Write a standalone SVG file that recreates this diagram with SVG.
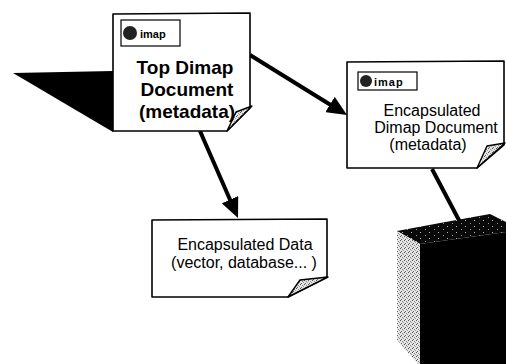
<svg xmlns="http://www.w3.org/2000/svg" width="506" height="364" viewBox="0 0 506 364">
  <defs>
    <!-- dithered grey used on the page curls and the cube side -->
    <pattern id="dither" width="4" height="4" patternUnits="userSpaceOnUse">
      <rect width="4" height="4" fill="#e4e4e4"/>
      <rect x="0" y="0" width="1" height="1" fill="#555"/>
      <rect x="2" y="1" width="1" height="1" fill="#888"/>
      <rect x="1" y="3" width="1" height="1" fill="#666"/>
      <rect x="3" y="2" width="1" height="1" fill="#999"/>
    </pattern>
    <pattern id="speckle" width="9" height="6" patternUnits="userSpaceOnUse">
      <rect width="9" height="6" fill="#0a0a0a"/>
      <rect x="2" y="1" width="1" height="1" fill="#999"/>
      <rect x="6" y="4" width="1" height="1" fill="#bbb"/>
    </pattern>
    <marker id="ah" markerUnits="userSpaceOnUse" markerWidth="22" markerHeight="18" refX="8" refY="9" orient="auto">
      <path d="M0,0 L20,9 L0,18 z" fill="#000"/>
    </marker>
  </defs>
  <style>
    .page { fill: #fff; stroke: #000; stroke-width: 1.6; stroke-linejoin: round; }
    .curl { fill: url(#dither); stroke: #000; stroke-width: 1.4; stroke-linejoin: round; }
    .icon { fill: #fff; stroke: #000; stroke-width: 1.2; }
    .icontxt { font-family: "Liberation Sans", Arial, sans-serif; font-size: 11px; font-weight: bold; fill: #000; }
    .big { font-family: "Liberation Sans", Arial, sans-serif; font-size: 19px; font-weight: bold; fill: #000; text-anchor: middle; }
    .lbl { font-family: "Liberation Sans", Arial, sans-serif; font-size: 16px; fill: #000; text-anchor: middle; }
    .conn { stroke: #000; stroke-width: 4; fill: none; }
  </style>

  <!-- black wedge behind the top document -->
  <polygon points="13,73 113,71 113,132" fill="#000"/>

  <g id="connectors">
    <line class="conn" x1="250" y1="55" x2="336.8" y2="108.7" marker-end="url(#ah)"/>
    <line class="conn" x1="200" y1="131" x2="233.2" y2="207" marker-end="url(#ah)"/>
    <line class="conn" x1="432" y1="169" x2="461" y2="224"/>
  </g>

  <g id="top-dimap">
    <path class="page" d="M113,14 L250,13 L250,108 L227,131 L113,131 Z"/>
    <path class="curl" d="M227,131 L236,112 L252,106 Z"/>
    <rect class="icon" x="121" y="20" width="59" height="26"/>
    <circle cx="130" cy="33" r="7" fill="#222"/>
    <text class="icontxt" x="140" y="38">imap</text>
    <text class="big" x="185" y="74">Top Dimap</text>
    <text class="big" x="187" y="96">Document</text>
    <text class="big" x="187" y="118">(metadata)</text>
  </g>

  <g id="encapsulated-dimap">
    <path class="page" d="M347,62 L504,61 L504,145 L477,168 L347,168 Z"/>
    <path class="curl" d="M477,168 L487,146 L505,143 Z"/>
    <rect class="icon" x="358" y="72" width="59" height="18"/>
    <circle cx="366" cy="81" r="6" fill="#222"/>
    <text class="icontxt" x="374" y="86" letter-spacing="1">imap</text>
    <text class="lbl" x="432" y="116">Encapsulated</text>
    <text class="lbl" x="436" y="133">Dimap Document</text>
    <text class="lbl" x="428" y="150">(metadata)</text>
  </g>

  <g id="encapsulated-data">
    <path class="page" d="M152,220 L327,219 L327,277 L288,297 L152,297 Z"/>
    <path class="curl" d="M288,297 L300,280 L328,277 Z"/>
    <text class="lbl" x="245" y="250">Encapsulated Data</text>
    <text class="lbl" x="244" y="268">(vector, database... )</text>
  </g>

  <g id="data-store">
    <polygon points="397,231 440,223 490,214 506,222 506,232 420,244" fill="url(#speckle)"/>
    <polygon points="397,231 420,244 420,364 418,364 397,340" fill="url(#dither)"/>
    <polygon points="420,244 506,232 506,364 420,364" fill="#000"/>
  </g>
</svg>
